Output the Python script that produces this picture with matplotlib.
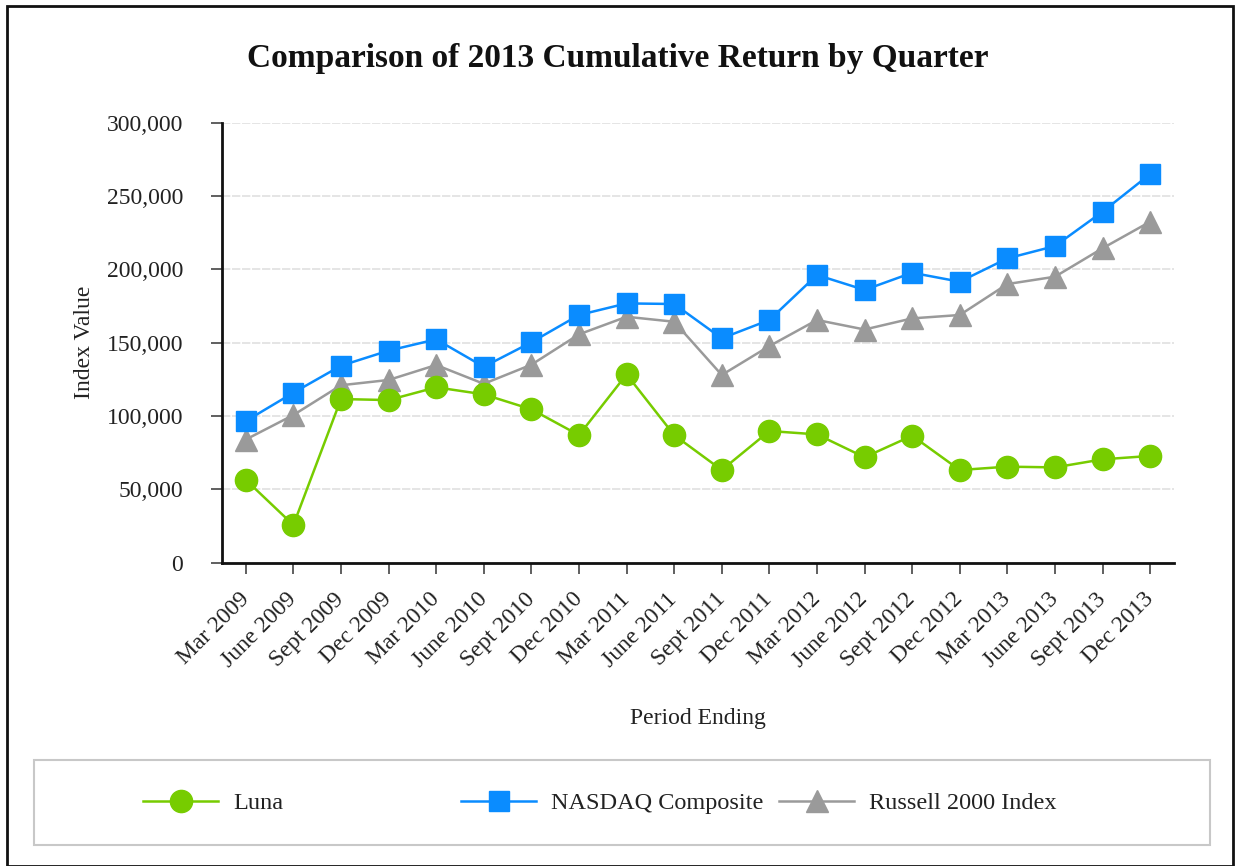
import numpy as np
import matplotlib.pyplot as plt
from matplotlib.patches import Rectangle
from matplotlib.lines import Line2D
from matplotlib.ticker import FuncFormatter

plt.rcParams['font.family'] = ['Liberation Serif', 'DejaVu Serif']

periods = ['Mar 2009', 'June 2009', 'Sept 2009', 'Dec 2009', 'Mar 2010', 'June 2010',
           'Sept 2010', 'Dec 2010', 'Mar 2011', 'June 2011', 'Sept 2011', 'Dec 2011',
           'Mar 2012', 'June 2012', 'Sept 2012', 'Dec 2012', 'Mar 2013', 'June 2013',
           'Sept 2013', 'Dec 2013']

luna = [56500, 25700, 111600, 110900, 119600, 114800, 104600, 87000, 128400, 87000,
        63200, 89800, 87500, 71900, 86600, 63200, 65500, 65000, 70500, 72800]
nasdaq = [96600, 115900, 134300, 144600, 152300, 133600, 150300, 168900, 176800, 176400,
          153000, 165500, 196200, 186000, 197700, 191600, 207500, 215900, 239300, 265000]
russell = [84000, 100700, 121000, 124600, 134800, 122000, 135000, 155700, 167700, 164300,
           128000, 147700, 165500, 159000, 166600, 168900, 190000, 195000, 214400, 232500]

GREEN = '#77cc00'
BLUE = '#0a8cff'
GRAY = '#9a9a9a'
TXT = '#222222'

fig = plt.figure(figsize=(12.36, 8.66), dpi=100)
ax = fig.add_axes([0.1796, 0.3502, 0.7702, 0.5081])

x = np.arange(len(periods))
ax.plot(x, russell, color=GRAY, lw=1.8, marker='^', ms=16, mec=GRAY, zorder=3,
        label='Russell 2000 Index')
ax.plot(x, nasdaq, color=BLUE, lw=1.8, marker='s', ms=15, mec=BLUE, zorder=4,
        label='NASDAQ Composite')
ax.plot(x, luna, color=GREEN, lw=1.8, marker='o', ms=16, mec=GREEN, zorder=5,
        label='Luna')

ax.set_xlim(-0.5, len(periods) - 0.5)
ax.set_ylim(0, 300000)
ax.set_yticks(np.arange(0, 300001, 50000))
ax.yaxis.set_major_formatter(FuncFormatter(lambda v, p: f'{int(v):,}'))
ax.set_xticks(x)
ax.set_xticklabels(periods, rotation=45, ha='right', va='center', rotation_mode='anchor')

ax.grid(axis='y', color='#e0e0e0', lw=1.2, ls=(0, (5, 1)))
ax.set_axisbelow(True)
for s in ['top', 'right']:
    ax.spines[s].set_visible(False)
for s in ['left', 'bottom']:
    ax.spines[s].set_linewidth(2)
    ax.spines[s].set_color('#111111')
ax.tick_params(axis='both', length=8, width=1.2, color='#444444', labelsize=17,
               labelcolor=TXT)
ax.tick_params(axis='y', pad=20)
ax.tick_params(axis='x', pad=16)

ax.set_ylabel('Index Value', fontsize=17, color=TXT, labelpad=8)
ax.set_xlabel('Period Ending', fontsize=17, color=TXT, labelpad=26)
fig.text(0.5, 0.933, 'Comparison of 2013 Cumulative Return by Quarter',
         ha='center', va='center', fontsize=24, fontweight='bold', color='#111111')

# outer border
fig.patches.append(Rectangle((7 / 1236, 0.0), 1226 / 1236, 1 - 6 / 866,
                             transform=fig.transFigure, fill=False,
                             edgecolor='#111111', lw=2))
# legend box
fig.patches.append(Rectangle((34 / 1236, 1 - 845 / 866), 1176 / 1236, 85 / 866,
                             transform=fig.transFigure, fill=False,
                             edgecolor='#c8c8c8', lw=1.5))

entries = [('Luna', GREEN, 'o', 16, 143),
           ('NASDAQ Composite', BLUE, 's', 15, 461),
           ('Russell 2000 Index', GRAY, '^', 16, 779)]
for name, col, mk, ms, px in entries:
    h = Line2D([], [], color=col, lw=1.8, marker=mk, ms=ms, mec=col)
    lg = fig.legend([h], [name], loc='center left',
                    bbox_to_anchor=(px / 1236, 1 - 803 / 866), frameon=False,
                    fontsize=17.5, handlelength=3.1, handletextpad=0.6,
                    borderpad=0, borderaxespad=0, labelcolor=TXT)

fig.savefig('out.png', dpi=100)
